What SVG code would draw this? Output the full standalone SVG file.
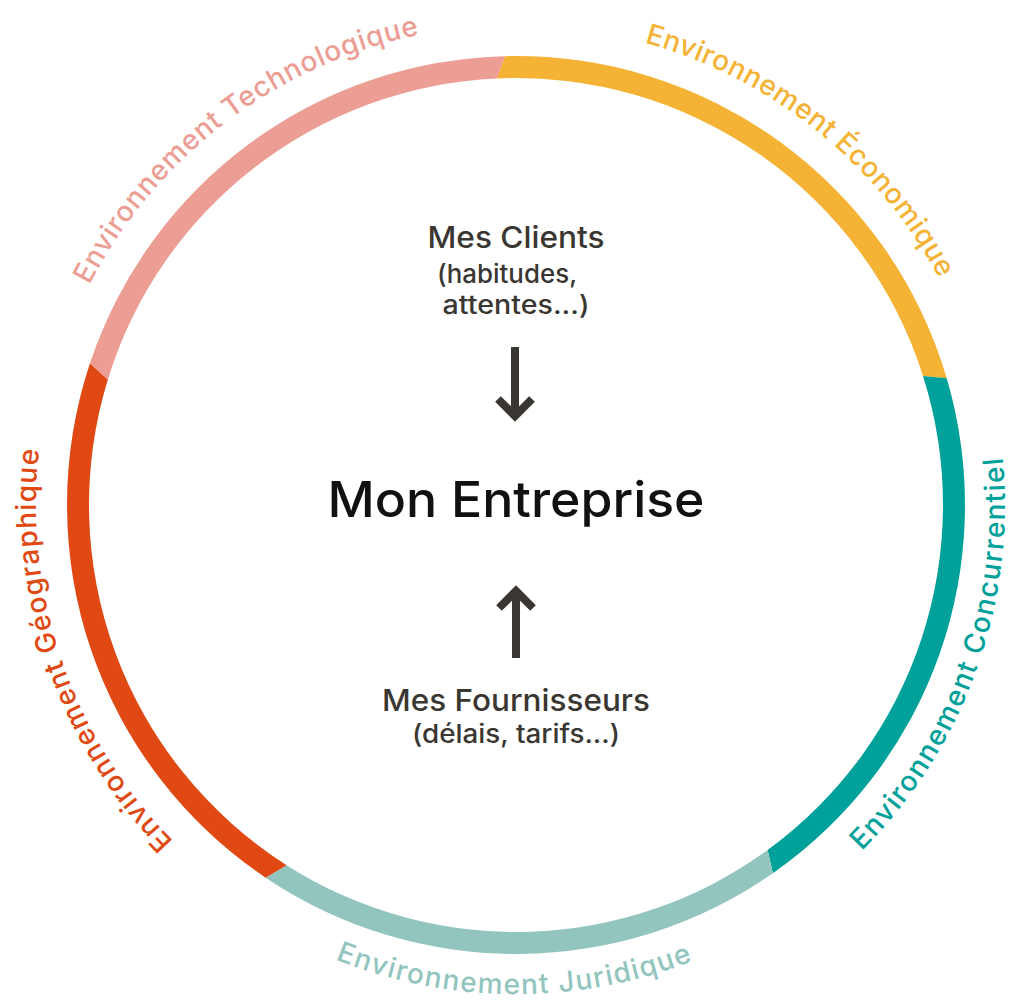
<svg xmlns="http://www.w3.org/2000/svg" width="1011" height="1005" viewBox="0 0 1011 1005">
  <style>
    .lbl { font-family: Inter, "Noto Sans", sans-serif; font-size: 28px; font-weight: 500; }
    .ctr { font-family: Inter, "Noto Sans", sans-serif; fill: #3a3632; text-anchor: middle; font-weight: 500; }
    .arrow { fill: none; stroke: #3a3632; stroke-width: 8; stroke-linejoin: miter; stroke-linecap: butt; }
  </style>
  <defs>
    <path id="cw" d="M 516,25 A 480,480 0 1,1 516,985 A 480,480 0 1,1 516,25"/>
    <path id="ccw" d="M 27,505 A 489,489 0 1,0 1005,505 A 489,489 0 1,0 27,505"/>
  </defs>
  <rect width="1011" height="1005" fill="#ffffff"/>

  <g id="env-economique">
    <path fill="#f5b335" d="M 505.03,56.13 A 449,449 0 0,1 946.73,378.23 L 923.01,375.89 A 427,427 0 0,0 496.63,78.44 Z"/>
    <text class="lbl" fill="#f5b335" text-anchor="middle"><textPath href="#cw" startOffset="324" textLength="388" lengthAdjust="spacing">Environnement Économique</textPath></text>
  </g>
  <g id="env-concurrentiel">
    <path fill="#00a19a" d="M 946.73,378.23 A 449,449 0 0,1 772.90,873.25 L 767.59,850.01 A 427,427 0 0,0 923.01,375.89 Z"/>
    <text class="lbl" fill="#00a19a" text-anchor="middle"><textPath href="#ccw" startOffset="1368" textLength="432" lengthAdjust="spacing">Environnement Concurrentiel</textPath></text>
  </g>
  <g id="env-juridique">
    <path fill="#93c5bf" d="M 772.90,873.25 A 449,449 0 0,1 265.61,877.65 L 286.57,865.13 A 427,427 0 0,0 767.59,850.01 Z"/>
    <text class="lbl" fill="#93c5bf" text-anchor="middle"><textPath href="#ccw" startOffset="766" textLength="366" lengthAdjust="spacing">Environnement Juridique</textPath></text>
  </g>
  <g id="env-geographique">
    <path fill="#e04914" d="M 265.61,877.65 A 449,449 0 0,1 89.95,363.27 L 107.88,379.45 A 427,427 0 0,0 286.57,865.13 Z"/>
    <text class="lbl" fill="#e04914" text-anchor="middle"><textPath href="#cw" startOffset="2103" textLength="428" lengthAdjust="spacing">Environnement Géographique</textPath></text>
  </g>
  <g id="env-technologique">
    <path fill="#ec9e94" d="M 89.95,363.27 A 449,449 0 0,1 505.03,56.13 L 496.63,78.44 A 427,427 0 0,0 107.88,379.45 Z"/>
    <text class="lbl" fill="#ec9e94" text-anchor="middle"><textPath href="#cw" startOffset="2704" textLength="428" lengthAdjust="spacing">Environnement Technologique</textPath></text>
  </g>

  <g id="clients">
    <text class="ctr" x="516" y="248" font-size="30" textLength="177" lengthAdjust="spacingAndGlyphs">Mes Clients</text>
    <text class="ctr" x="507" y="283" font-size="26" textLength="140" lengthAdjust="spacingAndGlyphs">(habitudes,</text>
    <text class="ctr" x="516" y="314" font-size="26" textLength="147" lengthAdjust="spacingAndGlyphs">attentes...)</text>
  </g>

  <g id="entreprise">
    <text x="516" y="517" font-family="Inter, 'Noto Sans', sans-serif" font-size="50" font-weight="500" fill="#111111" text-anchor="middle" textLength="377" lengthAdjust="spacingAndGlyphs">Mon Entreprise</text>
  </g>

  <g id="fournisseurs">
    <text class="ctr" x="516" y="711" font-size="30" textLength="268" lengthAdjust="spacingAndGlyphs">Mes Fournisseurs</text>
    <text class="ctr" x="516" y="743" font-size="26" textLength="208" lengthAdjust="spacingAndGlyphs">(délais, tarifs...)</text>
  </g>

  <g id="connectors">
    <path class="arrow" d="M 515,347 L 515,413 M 498,399 L 515,416 L 532,399"/>
    <path class="arrow" d="M 516,658 L 516,593 M 499,608 L 516,591 L 533,608"/>
  </g>
</svg>
